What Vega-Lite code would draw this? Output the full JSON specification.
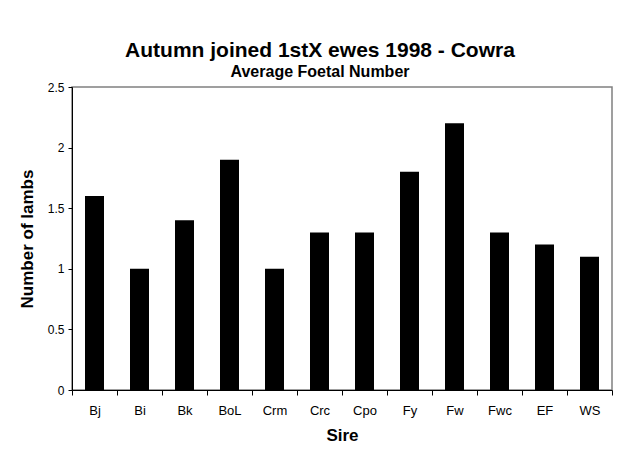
{
  "$schema": "https://vega.github.io/schema/vega-lite/v6.json",
  "autosize": "none",
  "width": 540,
  "height": 303,
  "padding": {"left": 72, "top": 87, "right": 8, "bottom": 71},
  "background": "white",
  "title": {
    "text": "Autumn joined 1stX ewes 1998 - Cowra",
    "subtitle": "Average Foetal Number",
    "anchor": "middle",
    "dx": -22,
    "offset": 1,
    "font": "Liberation Sans",
    "fontSize": 21,
    "fontWeight": "bold",
    "color": "black",
    "subtitleFont": "Liberation Sans",
    "subtitleFontSize": 16,
    "subtitleFontWeight": "bold",
    "subtitleColor": "black",
    "subtitlePadding": 3
  },
  "data": {
    "values": [
      {"sire": "Bj", "lambs": 1.6},
      {"sire": "Bi", "lambs": 1.0},
      {"sire": "Bk", "lambs": 1.4},
      {"sire": "BoL", "lambs": 1.9},
      {"sire": "Crm", "lambs": 1.0},
      {"sire": "Crc", "lambs": 1.3},
      {"sire": "Cpo", "lambs": 1.3},
      {"sire": "Fy", "lambs": 1.8},
      {"sire": "Fw", "lambs": 2.2},
      {"sire": "Fwc", "lambs": 1.3},
      {"sire": "EF", "lambs": 1.2},
      {"sire": "WS", "lambs": 1.1}
    ]
  },
  "mark": {"type": "bar", "color": "black", "width": 19},
  "encoding": {
    "x": {
      "field": "sire",
      "type": "nominal",
      "sort": null,
      "title": "Sire",
      "scale": {"paddingInner": 0, "paddingOuter": 0},
      "axis": {
        "labelAngle": 0,
        "labelFontSize": 13,
        "tickBand": "extent",
        "tickSize": 5,
        "labelPadding": 9,
        "titlePadding": 10
      }
    },
    "y": {
      "field": "lambs",
      "type": "quantitative",
      "title": "Number of lambs",
      "scale": {"domain": [0, 2.5], "nice": false},
      "axis": {
        "values": [0, 0.5, 1, 1.5, 2, 2.5],
        "format": "~g",
        "grid": false,
        "tickSize": 4,
        "labelPadding": 4,
        "titlePadding": 11
      }
    }
  },
  "config": {
    "view": {"stroke": "#808080", "strokeWidth": 1.5},
    "axis": {
      "domainColor": "black",
      "tickColor": "black",
      "labelColor": "black",
      "titleColor": "black",
      "labelFont": "Liberation Sans",
      "labelFontSize": 12,
      "titleFont": "Liberation Sans",
      "titleFontSize": 17,
      "titleFontWeight": "bold"
    }
  }
}
